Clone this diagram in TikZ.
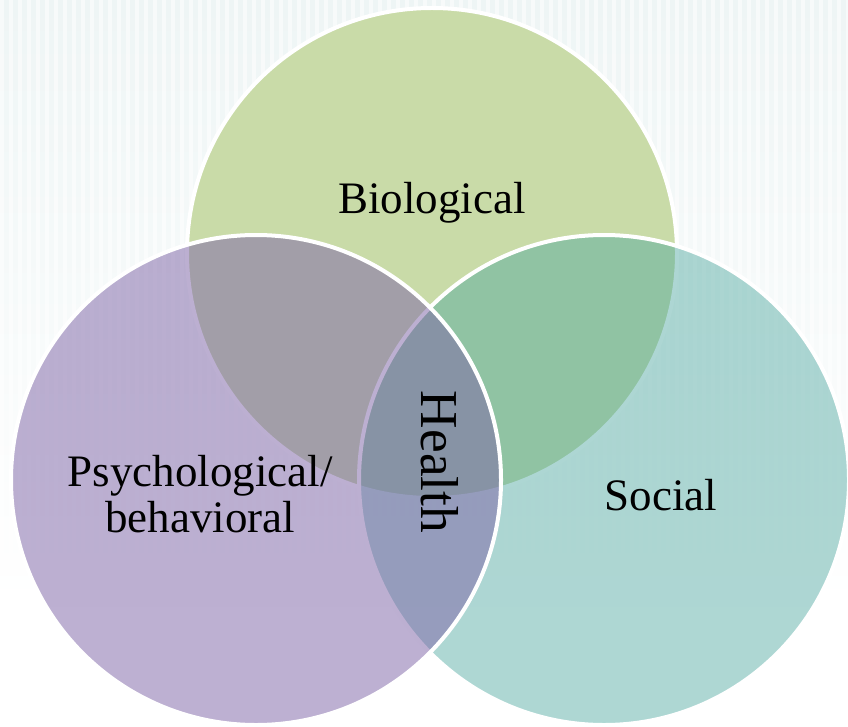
\documentclass[tikz,border=0pt]{standalone}
\usepackage{fontspec}
\setmainfont{Liberation Serif}

\definecolor{biogreen}{HTML}{C9DBA8}
\definecolor{socteal}{RGB}{75,166,158}
\definecolor{psypurple}{RGB}{128,103,168}
\definecolor{bgtint}{HTML}{EEF5F5}

\begin{document}
\begin{tikzpicture}[x=0.75pt,y=0.75pt,
    venn/.style={circle,draw=white,line width=3pt,minimum size=367.5pt,inner sep=0pt},
    lbl/.style={font=\fontsize{33.75}{34.5}\selectfont,align=center,inner sep=0pt}]

          \useasboundingbox (0,0) rectangle (848,726);

          % striped background
          \shade[top color=bgtint,bottom color=white] (0,120) rectangle (848,726);
          \foreach \x in {0,9,...,846}
              \fill[white,opacity=0.55] (\x,120) rectangle ++(4,606);

          % three circles
          \node[venn,fill=biogreen] (bio) at (432,473) {};
          \node[venn,fill=socteal,fill opacity=0.45] (soc) at (604,246) {};
          \node[venn,fill=psypurple,fill opacity=0.52] (psy) at (256,246) {};

          % labels
          \node[lbl] (biolbl) at (432,523) {Biological};
          \node[lbl] (soclbl) at (661,231) {Social};
          \node[lbl] (psylbl) at (200,232) {Psychological/\\behavioral};
          \node[lbl,font=\fontsize{40}{42}\selectfont,rotate=-90] (health) at (440,264) {Health};
        \end{tikzpicture}
\end{document}
